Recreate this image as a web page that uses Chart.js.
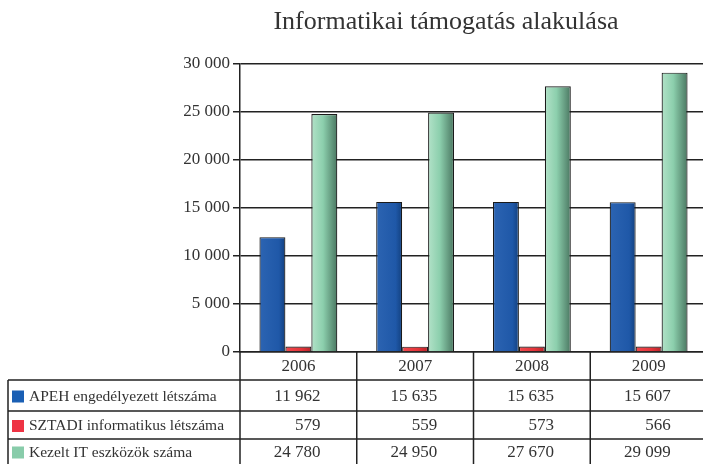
<!DOCTYPE html>
<html>
<head>
<meta charset="utf-8">
<script src="https://cdn.jsdelivr.net/npm/chart.js@4/dist/chart.umd.min.js"></script>
<style>
html,body{margin:0;padding:0;background:#fff;overflow:hidden;width:703px;height:464px;}
#wrap{width:707px;height:464px;}
</style>
</head>
<body>
<div id="wrap"><canvas id="c" width="707" height="464"></canvas></div>
<script>
const title = "Informatikai támogatás alakulása";
const years = ["2006", "2007", "2008", "2009"];
const seriesNames = ["APEH engedélyezett létszáma", "SZTADI informatikus létszáma", "Kezelt IT eszközök száma"];
const apeh = [11962, 15635, 15635, 15607];
const sztadi = [579, 559, 573, 566];
const kezelt = [24780, 24950, 27670, 29099];
const yTicks = [0, 5000, 10000, 15000, 20000, 25000, 30000];

const FONT = "'Liberation Serif', 'DejaVu Serif', serif";
const TXT = '#333';
const LINE = '#222';
const CATP = 0.667;
const swatch = ['#1a5fb4', '#ee3344', '#88ccaa'];
const stops = [
  [[0,'#2c64b2'],[0.75,'#1f58a8'],[1,'#12407f']],
  [[0,'#f04a4e'],[0.6,'#e5343a'],[1,'#b8242a']],
  [[0,'#b2e2c8'],[0.45,'#8ccfad'],[1,'#4a7761']]
];
function fmt(v){ return String(v).replace(/\B(?=(\d{3})+(?!\d))/g, ' '); }

function gradFor(ctx){
  const chart = ctx.chart, xs = chart.scales.x;
  const s = stops[ctx.datasetIndex];
  if (!xs || ctx.dataIndex === undefined || !isFinite(xs.getPixelForValue(0))) return s[1][1];
  const cw = xs.getPixelForValue(1) - xs.getPixelForValue(0);
  const w = cw * CATP / 3;
  const cx = xs.getPixelForValue(ctx.dataIndex) + (ctx.datasetIndex - 1) * w;
  const g = chart.ctx.createLinearGradient(cx - w/2, 0, cx + w/2, 0);
  s.forEach(p => g.addColorStop(p[0], p[1]));
  return g;
}

const tablePlugin = {
  id: 'tablePlugin',
  afterDraw(chart){
    const c = chart.ctx, a = chart.chartArea, xs = chart.scales.x;
    const W = chart.width;
    const rowsY = [a.bottom, 380, 411, 439, 464];
    c.save();
    c.fillStyle = TXT;
    c.font = "26px " + FONT;
    c.textAlign = 'center';
    c.textBaseline = 'alphabetic';
    c.fillText(title, 446, 29);
    c.strokeStyle = LINE;
    c.lineWidth = 1.5;
    c.beginPath();
    for (let r = 1; r < 4; r++){ c.moveTo(8, rowsY[r]); c.lineTo(W, rowsY[r]); }
    c.moveTo(8, rowsY[1]); c.lineTo(8, 464);
    const cw = xs.getPixelForValue(1) - xs.getPixelForValue(0);
    for (let i = 0; i <= years.length; i++){
      const x = xs.getPixelForValue(0) - cw/2 + i*cw;
      c.moveTo(x, a.bottom); c.lineTo(x, 464);
    }
    c.stroke();
    c.font = "17px " + FONT;
    c.textBaseline = 'middle';
    c.textAlign = 'center';
    years.forEach((y, i) => c.fillText(y, xs.getPixelForValue(i), (rowsY[0]+rowsY[1])/2 + 1));
    const data = [apeh, sztadi, kezelt];
    data.forEach((arr, r) => {
      const cy = (rowsY[r+1] + rowsY[r+2]) / 2 + 1;
      c.fillStyle = swatch[r];
      c.fillRect(12, cy - 6, 12, 12);
      c.fillStyle = TXT;
      c.font = "15.5px " + FONT;
      c.textAlign = 'left';
      c.fillText(seriesNames[r], 29, cy);
      c.font = "17px " + FONT;
      c.textAlign = 'right';
      arr.forEach((v, i) => c.fillText(fmt(v), xs.getPixelForValue(i) + 22, cy));
    });
    c.restore();
  }
};

const barStyle = {
  backgroundColor: gradFor,
  borderColor: '#1a1a1a',
  borderWidth: 1.2,
  borderSkipped: 'bottom',
  barPercentage: 1,
  categoryPercentage: CATP
};

new Chart(document.getElementById('c'), {
  type: 'bar',
  data: {
    labels: years,
    datasets: [
      Object.assign({ label: seriesNames[0], data: apeh }, barStyle),
      Object.assign({ label: seriesNames[1], data: sztadi }, barStyle),
      Object.assign({ label: seriesNames[2], data: kezelt }, barStyle)
    ]
  },
  options: {
    responsive: false,
    animation: false,
    layout: { padding: { top: 64, left: 0, right: 0, bottom: 0 } },
    plugins: { legend: { display: false }, title: { display: false }, tooltip: { enabled: false }, colors: { enabled: false } },
    scales: {
      x: {
        grid: { display: false },
        border: { display: true, color: LINE, width: 1.5 },
        ticks: { display: false },
        afterFit(s){ s.height = 112; }
      },
      y: {
        min: 0, max: 30000,
        afterBuildTicks(s){ s.ticks = yTicks.map(v => ({ value: v })); },
        ticks: {
          callback: v => fmt(v),
          color: TXT,
          font: { family: FONT, size: 17 },
          padding: 3
        },
        grid: { color: LINE, lineWidth: 1.5, tickLength: 7, drawTicks: true },
        border: { display: true, color: LINE, width: 1.5 },
        afterFit(s){ s.width = 240; }
      }
    }
  },
  plugins: [tablePlugin]
});
</script>
</body>
</html>
